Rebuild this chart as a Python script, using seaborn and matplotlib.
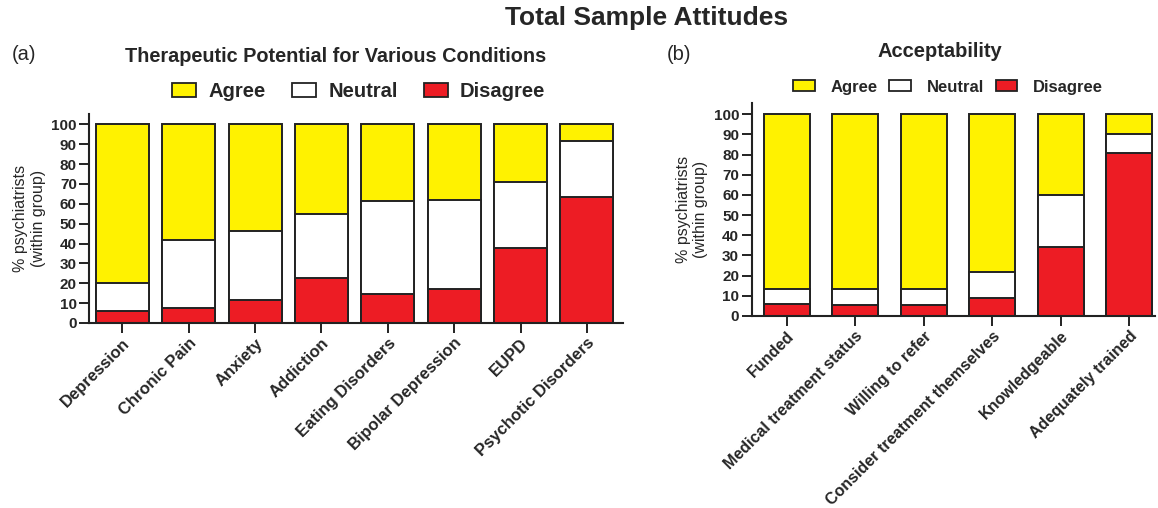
import matplotlib
matplotlib.use("Agg")
import matplotlib.pyplot as plt
import seaborn as sns
import pandas as pd
from matplotlib.patches import Patch

# data (percent of psychiatrists)
conditions = ["Depression", "Chronic Pain", "Anxiety", "Addiction", "Eating Disorders",
              "Bipolar Depression", "EUPD", "Psychotic Disorders"]
cond_disagree = [6, 7.5, 11.5, 22.5, 14.5, 17, 37.5, 63.5]
cond_neutral = [14, 34.5, 35, 32.5, 47, 45, 33.5, 28]
cond_agree = [80, 58, 53.5, 45, 38.5, 38, 29, 8.5]

accept_items = ["Funded", "Medical treatment status", "Willing to refer",
                "Consider treatment themselves", "Knowledgeable", "Adequately trained"]
acc_disagree = [6, 5.5, 5.5, 9, 34, 81]
acc_neutral = [7.5, 8, 8, 13, 26, 9]
acc_agree = [86.5, 86.5, 86.5, 78, 40, 10]

YELLOW = "#FFF200"
RED = "#ED1C24"
DARK = "#222222"

sns.set_style("ticks")
plt.rcParams['font.family'] = ['Liberation Sans', 'DejaVu Sans']


def stacked(ax, cats, dis, neu, agr, width, xfont):
    df = pd.DataFrame({"cat": cats, "dis": dis, "neu": neu, "agr": agr})
    df["top_neu"] = df["dis"] + df["neu"]
    df["top_agr"] = df["top_neu"] + df["agr"]
    for col, colr in [("top_agr", YELLOW), ("top_neu", "white"), ("dis", RED)]:
        sns.barplot(data=df, x="cat", y=col, color=colr, width=width,
                    edgecolor=DARK, linewidth=1.4, saturation=1, ax=ax)
    ax.set_yticks(range(0, 101, 10))
    ax.set_xlabel("")
    ax.set_ylabel("% psychiatrists\n(within group)", fontsize=11.5, labelpad=4)
    for lab in ax.get_yticklabels():
        lab.set_fontweight("bold")
        lab.set_fontsize(11)
    ax.set_xticks(range(len(cats)))
    ax.set_xticklabels(cats, rotation=45, ha="right", rotation_mode="anchor",
                       fontsize=xfont, fontweight="bold")
    sns.despine(ax=ax)
    for s in ["left", "bottom"]:
        ax.spines[s].set_linewidth(1.5)
        ax.spines[s].set_color(DARK)
    ax.tick_params(width=1.4, length=7, color=DARK, pad=2)


fig = plt.figure(figsize=(11.58, 5.08), dpi=100)
ax1 = fig.add_axes([0.0771, 0.3642, 0.4609, 0.4106])
ax2 = fig.add_axes([0.6491, 0.378, 0.3483, 0.4189])

stacked(ax1, conditions, cond_disagree, cond_neutral, cond_agree, 0.8, 12)
ax1.set_xlim(-0.5, 7.545)
ax1.set_ylim(0, 105)
stacked(ax2, accept_items, acc_disagree, acc_neutral, acc_agree, 0.67, 11.5)
ax2.set_xlim(-0.51, 5.375)
ax2.set_ylim(0, 105.5)

handles = [Patch(facecolor=YELLOW, edgecolor=DARK, linewidth=1.3, label="Agree"),
           Patch(facecolor="white", edgecolor=DARK, linewidth=1.3, label="Neutral"),
           Patch(facecolor=RED, edgecolor=DARK, linewidth=1.3, label="Disagree")]
ax1.legend(handles=handles, ncol=3, frameon=False, loc="center",
           bbox_to_anchor=(0.505, 1.11), prop={"weight": "bold", "size": 14.5},
           handlelength=1.2, handleheight=0.7, columnspacing=1.3, handletextpad=0.6)
ax2.legend(handles=handles, ncol=3, frameon=False, loc="center",
           bbox_to_anchor=(0.487, 1.076), prop={"weight": "bold", "size": 12},
           handlelength=1.3, handleheight=0.6, columnspacing=0.7, handletextpad=0.95)

fig.text(0.5587, 0.9646, "Total Sample Attitudes", ha="center", va="center",
         fontsize=19, fontweight="bold")
fig.text(0.010, 0.893, "(a)", ha="left", va="center", fontsize=14.5)
fig.text(0.576, 0.893, "(b)", ha="left", va="center", fontsize=14.5)
fig.text(0.2897, 0.888, "Therapeutic Potential for Various Conditions", ha="center",
         va="center", fontsize=14.3, fontweight="bold")
fig.text(0.812, 0.898, "Acceptability", ha="center", va="center",
         fontsize=14.5, fontweight="bold")

fig.savefig("out.png", dpi=100)
